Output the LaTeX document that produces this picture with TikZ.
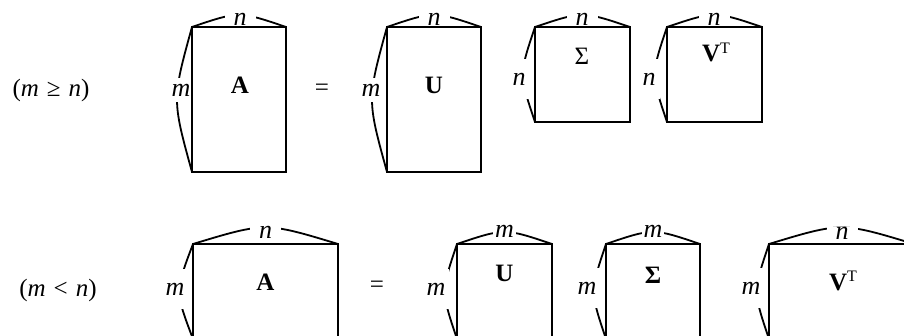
\documentclass[tikz,border=0pt]{standalone}
\usepackage{fontspec}
\setmainfont{Liberation Serif}
\usetikzlibrary{calc}
\newcommand{\mtx}[5]{\node[mat, minimum width=#4*0.5pt, minimum height=#5*0.5pt] (#1) at (#2,#3) {};}
\newcommand{\dims}[3]{%
  \draw[dimarc] (#1.north west) .. controls ($(#1.north)+(0,-2*#2)$) .. (#1.north east);
  \draw[dimarc] (#1.north west) .. controls ($(#1.west)+(-2*#3,0)$) .. (#1.south west);}
\newcommand{\edge}[1]{\draw[matline] (#1.north west) rectangle (#1.south east);}
\newcommand{\Tsup}{\raisebox{4.2pt}{\fontsize{8}{9}\selectfont\mdseries T}}

\begin{document}
\begin{tikzpicture}[x=0.5pt, y=-0.5pt,
  mat/.style={anchor=north west, inner sep=0pt, outer sep=0pt},
  matline/.style={line width=1pt},
  dimarc/.style={line width=0.9pt},
  toplab/.style={fill=white, inner xsep=4.5pt, inner ysep=0pt, font=\fontsize{13}{15}\selectfont\itshape},
  sidelab/.style={fill=white, inner xsep=2pt, inner ysep=5pt, font=\fontsize{13}{15}\selectfont\itshape},
  body/.style={anchor=base, inner sep=0pt, font=\fontsize{12.5}{14}\selectfont\bfseries},
  rowlab/.style={inner sep=0pt, font=\fontsize{12.5}{14}\selectfont}]
\useasboundingbox (0,0) rectangle (904,336);
\clip (0,0) rectangle (904,336);
% ---- row 1: m >= n --------------------------------------------------------
\node[rowlab] (caseA) at (51,90) {(\textit{m}\hspace{0.32em}≥\hspace{0.32em}\textit{n})};
\mtx{A1}{192}{27}{94}{145}
\mtx{U1}{387}{27}{94}{145}
\mtx{S1}{535}{27}{95}{95}
\mtx{V1}{667}{27}{95}{95}
\dims{A1}{8}{10}
\dims{U1}{8}{10}
\dims{S1}{8}{8}
\dims{V1}{8}{8}
\node[toplab] (A1n) at (240,19) {n};
\node[toplab] (U1n) at (434,19) {n};
\node[toplab] (S1n) at (582,19) {n};
\node[toplab] (V1n) at (714,19) {n};
\node[sidelab, inner ysep=3pt] (A1m) at (181,90) {m};
\node[sidelab, inner ysep=3pt] (U1m) at (371,90) {m};
\node[sidelab, inner ysep=7pt] (S1m) at (519,79) {n};
\node[sidelab, inner ysep=7pt] (V1m) at (649,79) {n};
\node[body] (A1b) at (240,94) {A};
\node[rowlab] (eq1) at (322,90) {=};
\node[body] (U1b) at (434,94) {U};
\node[body, font=\fontsize{12.5}{14}\selectfont] (S1b) at (582,65) {Σ};
\node[body] (V1b) at (716,62) {V\Tsup};
\edge{A1} \edge{U1} \edge{S1} \edge{V1}
% ---- row 2: m < n ---------------------------------------------------------
\node[rowlab] (caseB) at (58,290) {(\textit{m}\hspace{0.32em}<\hspace{0.32em}\textit{n})};
\mtx{A2}{193}{244}{145}{95}
\mtx{U2}{457}{244}{95}{95}
\mtx{S2}{606}{244}{94}{95}
\mtx{V2}{769}{244}{145}{95}
\dims{A2}{11}{9}
\dims{U2}{8}{8}
\dims{S2}{8}{8}
\dims{V2}{11}{8}
\node[toplab] (A2n) at (265.5,232) {n};
\node[toplab, inner xsep=1pt] (U2n) at (504.5,231) {m};
\node[toplab, inner xsep=1pt] (S2n) at (653,231) {m};
\node[toplab] (V2n) at (842,233) {n};
\node[sidelab, inner ysep=7pt] (A2m) at (175,289) {m};
\node[sidelab, inner ysep=7pt] (U2m) at (436,289) {m};
\node[sidelab, inner ysep=7pt] (S2m) at (587,288) {m};
\node[sidelab, inner ysep=7pt] (V2m) at (751,288) {m};
\node[body] (A2b) at (265.5,290) {A};
\node[rowlab] (eq2) at (377,287) {=};
\node[body] (U2b) at (504.5,281) {U};
\node[body] (S2b) at (653,283) {Σ};
\node[body] (V2b) at (843,290) {V\Tsup};
\edge{A2} \edge{U2} \edge{S2} \edge{V2}
\end{tikzpicture}
\end{document}
